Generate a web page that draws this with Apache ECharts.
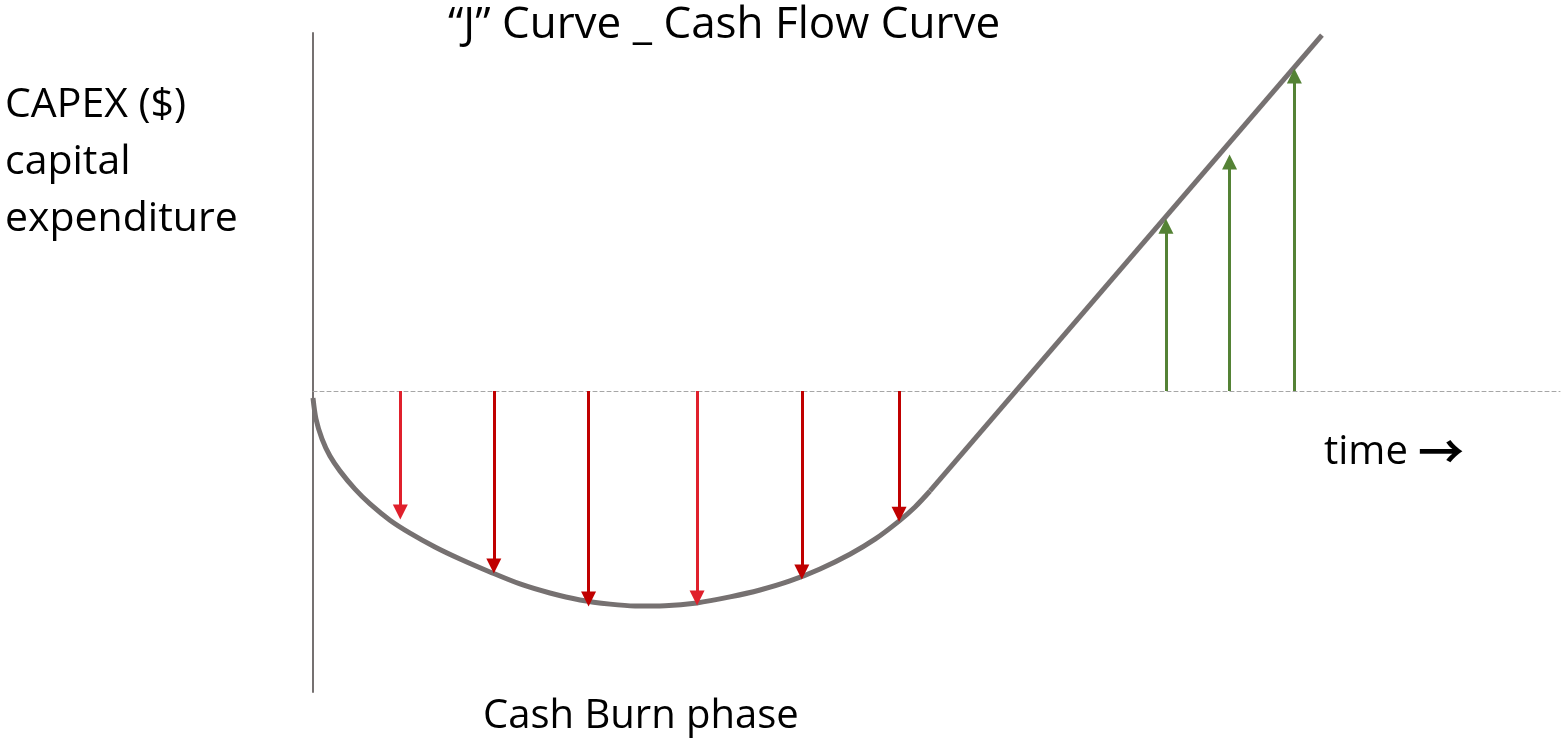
<!DOCTYPE html>
<html>
<head>
<meta charset="utf-8">
<title>J Curve</title>
<script src="https://cdn.jsdelivr.net/npm/echarts@6/dist/echarts.min.js"></script>
<style>
  html, body { margin: 0; padding: 0; background: #fff; }
  #main { width: 1562px; height: 745px; }
</style>
</head>
<body>
<div id="main"></div>
<script>
// time runs 0..100, cash -100..119 (0 = break-even line)
var curveX = [0, 0.24, 0.72, 1.36, 2.17, 3.37, 4.57, 6.17, 7.78, 9.78, 11.79, 14.19, 16.6, 19.0, 21.41, 23.82,
              25.82, 28.23, 30.79, 33.44, 35.85, 38.25, 40.66, 43.06, 45.07, 46.99, 48.28, 49.48];
var curveY = [-2.3, -9.3, -15.9, -21.6, -26.6, -32.6, -37.5, -42.9, -47.2, -51.8, -55.8, -60.1, -64.1, -67.1, -69.4, -70.8,
              -71.4, -71.3, -70.4, -68.4, -66.1, -63.1, -59.1, -54.2, -49.2, -43.2, -38.5, -33.2];
var lineX = [49.48, 80.91];
var lineY = [-33.2, 118.3];

// cash burn arrows (down) and payback arrows (up), end = arrow head centre
var burnX = [7.0, 14.5, 22.1, 30.8, 39.2, 47.0];
var burnY = [-40.2, -58.1, -69.1, -68.8, -60.1, -40.9];
var burnColor = ['#e0202c', '#c00000', '#c00000', '#e0202c', '#c00000', '#c00000'];
var gainX = [68.4, 73.5, 78.7];
var gainY = [54.8, 76.1, 104.7];

var myChart = echarts.init(document.getElementById('main'));

var curveData = [];
for (var i = 0; i < curveX.length; i++) {
    curveData.push([curveX[i], curveY[i]]);
}
var lineData = [];
for (i = 0; i < lineX.length; i++) {
    lineData.push([lineX[i], lineY[i]]);
}
var burnData = [];
for (i = 0; i < burnX.length; i++) {
    burnData.push({
        coords: [[burnX[i], 0], [burnX[i], burnY[i]]],
        lineStyle: { color: burnColor[i] }
    });
}
var gainData = [];
for (i = 0; i < gainX.length; i++) {
    gainData.push({ coords: [[gainX[i], 0], [gainX[i], gainY[i]]] });
}

var txt = { fontFamily: 'Open Sans', fill: '#000' };

var option = {
    animation: false,
    grid: { left: 313, right: 2, top: 33, bottom: 53 },
    xAxis: {
        type: 'value',
        min: 0,
        max: 100,
        axisLine: { onZero: true, lineStyle: { color: '#a6a6a6', width: 1, type: [4, 3] } },
        axisTick: { show: false },
        axisLabel: { show: false },
        splitLine: { show: false }
    },
    yAxis: {
        type: 'value',
        min: -100,
        max: 119,
        axisLine: { show: true, onZero: false, lineStyle: { color: '#767171', width: 2 } },
        axisTick: { show: false },
        axisLabel: { show: false },
        splitLine: { show: false }
    },
    graphic: [
        { type: 'text', left: 448, top: 3, style: Object.assign({ text: '\u201cJ\u201d Curve _ Cash Flow Curve', fontSize: 44 }, txt) },
        { type: 'text', left: 5, top: 77, style: Object.assign({ text: 'CAPEX ($)\ncapital\nexpenditure', fontSize: 41, lineHeight: 57 }, txt) },
        { type: 'text', left: 1324, top: 433, style: Object.assign({ text: 'time', fontSize: 40 }, txt) },
        { type: 'text', left: 1418, top: 428, style: { text: '\u2192', fontSize: 46, fontFamily: 'Noto Sans CJK SC', fontWeight: 'bold', fill: '#000' } },
        { type: 'text', left: 483, top: 697, style: Object.assign({ text: 'Cash Burn phase', fontSize: 40 }, txt) }
    ],
    series: [
        {
            type: 'line',
            data: curveData,
            smooth: 0.3,
            symbol: 'none',
            lineStyle: { color: '#767171', width: 5 },
            z: 3
        },
        {
            type: 'line',
            data: lineData,
            symbol: 'none',
            lineStyle: { color: '#767171', width: 5 },
            z: 3
        },
        {
            type: 'lines',
            coordinateSystem: 'cartesian2d',
            data: burnData,
            symbol: ['none', 'triangle'],
            symbolSize: [0, 15],
            lineStyle: { width: 3, opacity: 1 },
            z: 4
        },
        {
            type: 'lines',
            coordinateSystem: 'cartesian2d',
            data: gainData,
            symbol: ['none', 'triangle'],
            symbolSize: [0, 15],
            lineStyle: { color: '#548235', width: 3, opacity: 1 },
            z: 4
        }
    ]
};

myChart.setOption(option);
</script>
</body>
</html>
